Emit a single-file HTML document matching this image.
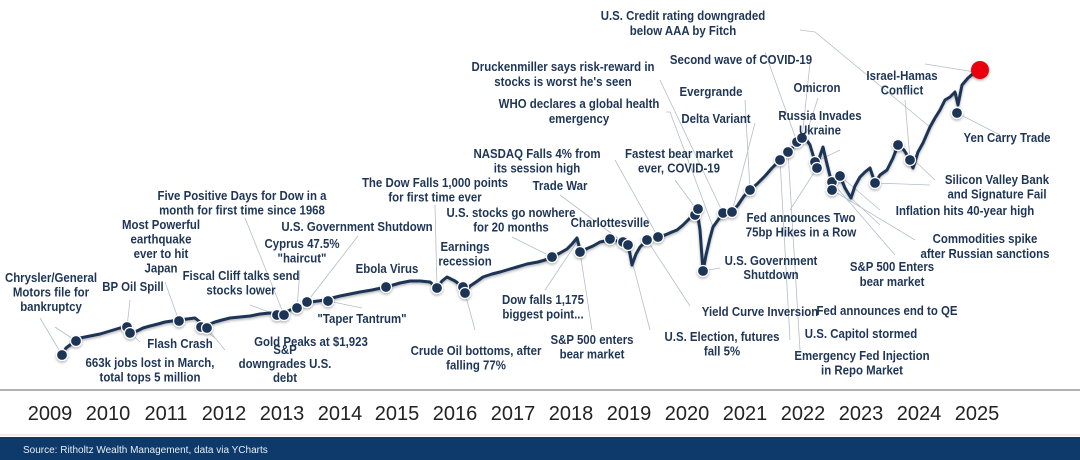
<!DOCTYPE html>
<html><head><style>
body{margin:0;width:1080px;height:460px;overflow:hidden;background:#fff;font-family:"Liberation Sans",sans-serif}
svg{display:block}
.l{font-weight:bold;font-size:13px;fill:#1e3556;text-anchor:middle}
.y{font-size:20px;fill:#222;text-anchor:middle}
.d{fill:#1e3556;stroke:#fff;stroke-width:1.2}
.k{stroke:#b5bec9;stroke-width:0.8;fill:none}
</style></head><body>
<svg width="1080" height="460" viewBox="0 0 1080 460">
<defs><filter id="sh" x="-5%" y="-5%" width="110%" height="120%"><feDropShadow dx="0" dy="1.5" stdDeviation="1.2" flood-color="#000" flood-opacity="0.3"/></filter></defs>
<g class="k">
<path d="M62 355L40 318"/><path d="M76 341L55 327"/><path d="M127 327L130 300"/><path d="M130 333L140 342"/><path d="M179 321L165 282"/><path d="M201 327L215 338"/><path d="M207 328L225 350"/><path d="M277 315L250 305"/><path d="M284 315L245 218"/><path d="M297 308L300 270"/><path d="M307 302L358 236"/><path d="M328 301L362 308"/><path d="M437 288L435 205"/><path d="M465 293L475 330"/><path d="M552 257L512 237"/><path d="M577 242L545 290"/><path d="M580 252L592 330"/><path d="M623 242L560 195"/><path d="M628 245L650 330"/><path d="M647 240L690 306"/><path d="M658 237L615 160"/><path d="M697 210L675 180"/><path d="M703 271L720 268"/><path d="M713 227L670 112L666 112"/><path d="M723 213L660 80"/><path d="M732 212L755 123"/><path d="M750 190L745 100"/><path d="M780 160L790 340"/><path d="M788 152L800 350"/><path d="M797 142L765 52"/><path d="M802 138L810 63"/><path d="M805 138L818 98"/><path d="M815 162L840 150"/><path d="M817 168L790 210"/><path d="M832 182L895 255"/><path d="M832 190L915 240"/><path d="M840 176L880 210"/><path d="M851 198L880 225"/><path d="M875 183L930 185"/><path d="M898 145L935 180"/><path d="M910 160L905 100"/><path d="M930 127L815 32L800 30"/><path d="M957 113L1000 135"/><path d="M975 72L925 64"/>
</g>
<polyline filter="url(#sh)" fill="none" stroke="#1e3556" stroke-width="3" stroke-linejoin="round" points="62,355 66,348 70,345 75,341 80,338 90,336 100,334 110,331 120,328 127,326 131,333 137,331 143,328 150,326 158,324 165,322 172,321 179,320 187,319 195,318 200,322 205,326 210,324 215,322 222,320 230,318 240,317 250,316 260,314 270,313 280,314 288,311 295,308 302,305 310,302 318,301 325,300 332,298 340,296 350,294 360,292 372,290 386,287 393,285 400,283 410,281 420,281 430,282 437,288 442,281 447,277 455,281 463,287 465,293 470,286 476,282 483,277 492,274 500,272 510,269 517,267 527,264 538,262 545,260 552,257 560,253 567,249 572,244 577,238 579,246 580,252 586,249 593,246 600,242 605,241 610,239 617,241 623,242 628,245 630,254 632,265 636,254 640,247 647,240 652,238 658,237 665,235 672,232 677,230 683,225 690,218 695,214 697,210 700,230 703,271 706,255 710,238 713,227 718,220 723,213 728,213 732,212 738,205 744,196 750,190 757,184 765,176 772,168 780,160 788,152 793,147 797,142 802,138 805,138 808,142 810,145 813,155 815,162 817,168 820,156 823,147 826,160 828,168 830,176 832,182 832,190 836,182 840,176 845,188 851,198 855,186 860,177 865,172 870,168 875,183 880,175 887,170 893,158 898,145 904,150 910,160 913,168 918,152 923,143 930,127 935,118 940,110 945,100 950,97 955,92 958,105 962,85 968,78 975,72 980,70"/>
<g filter="url(#sh)">
<circle class="d" cx="62" cy="355" r="5.5"/><circle class="d" cx="76" cy="341" r="5.5"/><circle class="d" cx="127" cy="327" r="5.5"/><circle class="d" cx="130" cy="333" r="5.5"/><circle class="d" cx="179" cy="321" r="5.5"/><circle class="d" cx="201" cy="327" r="5.5"/><circle class="d" cx="207" cy="328" r="5.5"/><circle class="d" cx="277" cy="315" r="5.5"/><circle class="d" cx="284" cy="315" r="5.5"/><circle class="d" cx="297" cy="308" r="5.5"/><circle class="d" cx="307" cy="302" r="5.5"/><circle class="d" cx="328" cy="301" r="5.5"/><circle class="d" cx="386" cy="287" r="5.5"/><circle class="d" cx="437" cy="288" r="5.5"/><circle class="d" cx="463" cy="287" r="5.5"/><circle class="d" cx="465" cy="293" r="5.5"/><circle class="d" cx="552" cy="257" r="5.5"/><circle class="d" cx="580" cy="252" r="5.5"/><circle class="d" cx="610" cy="239" r="5.5"/><circle class="d" cx="623" cy="242" r="5.5"/><circle class="d" cx="628" cy="245" r="5.5"/><circle class="d" cx="647" cy="240" r="5.5"/><circle class="d" cx="658" cy="237" r="5.5"/><circle class="d" cx="695" cy="215" r="5.5"/><circle class="d" cx="698" cy="209" r="5.5"/><circle class="d" cx="703" cy="271" r="5.5"/><circle class="d" cx="723" cy="213" r="5.5"/><circle class="d" cx="732" cy="212" r="5.5"/><circle class="d" cx="750" cy="190" r="5.5"/><circle class="d" cx="780" cy="160" r="5.5"/><circle class="d" cx="788" cy="152" r="5.5"/><circle class="d" cx="797" cy="142" r="5.5"/><circle class="d" cx="802" cy="138" r="5.5"/><circle class="d" cx="815" cy="162" r="5.5"/><circle class="d" cx="817" cy="168" r="5.5"/><circle class="d" cx="832" cy="182" r="5.5"/><circle class="d" cx="832" cy="190" r="5.5"/><circle class="d" cx="840" cy="176" r="5.5"/><circle class="d" cx="875" cy="183" r="5.5"/><circle class="d" cx="898" cy="145" r="5.5"/><circle class="d" cx="910" cy="160" r="5.5"/><circle class="d" cx="957" cy="113" r="5.5"/>
<circle cx="980" cy="70" r="9" fill="#e8000a"/>
</g>
<g class="l">
<text transform="translate(51,282) scale(.88 1)"><tspan x="0">Chrysler/General</tspan><tspan x="0" dy="14.5">Motors file for</tspan><tspan x="0" dy="14.5">bankruptcy</tspan></text>
<text transform="translate(133,291) scale(.88 1)">BP Oil Spill</text>
<text transform="translate(161,229) scale(.88 1)"><tspan x="0">Most Powerful</tspan><tspan x="0" dy="14.5">earthquake</tspan><tspan x="0" dy="14.5">ever to hit</tspan><tspan x="0" dy="14.5">Japan</tspan></text>
<text transform="translate(180,348) scale(.88 1)">Flash Crash</text>
<text transform="translate(150,367) scale(.88 1)"><tspan x="0">663k jobs lost in March,</tspan><tspan x="0" dy="14.5">total tops 5 million</tspan></text>
<text transform="translate(242,200) scale(.88 1)"><tspan x="0">Five Positive Days for Dow in a</tspan><tspan x="0" dy="14.5">month for first time since 1968</tspan></text>
<text transform="translate(357,231) scale(.88 1)">U.S. Government Shutdown</text>
<text transform="translate(302,248) scale(.88 1)"><tspan x="0">Cyprus 47.5%</tspan><tspan x="0" dy="14.5">"haircut"</tspan></text>
<text transform="translate(241,280) scale(.88 1)"><tspan x="0">Fiscal Cliff talks send</tspan><tspan x="0" dy="14.5">stocks lower</tspan></text>
<text transform="translate(311,346) scale(.88 1)">Gold Peaks at $1,923</text>
<text transform="translate(285,354) scale(.88 1)"><tspan x="0">S&amp;P</tspan><tspan x="0" dy="14">downgrades U.S.</tspan><tspan x="0" dy="14">debt</tspan></text>
<text transform="translate(362,323) scale(.88 1)">"Taper Tantrum"</text>
<text transform="translate(387,273) scale(.88 1)">Ebola Virus</text>
<text transform="translate(435,187) scale(.88 1)"><tspan x="0">The Dow Falls 1,000 points</tspan><tspan x="0" dy="14.5">for first time ever</tspan></text>
<text transform="translate(465,251) scale(.88 1)"><tspan x="0">Earnings</tspan><tspan x="0" dy="14.5">recession</tspan></text>
<text transform="translate(476,355) scale(.88 1)"><tspan x="0">Crude Oil bottoms, after</tspan><tspan x="0" dy="14.5">falling 77%</tspan></text>
<text transform="translate(511,217) scale(.88 1)"><tspan x="0">U.S. stocks go nowhere</tspan><tspan x="0" dy="14.5">for 20 months</tspan></text>
<text transform="translate(543,304) scale(.88 1)"><tspan x="0">Dow falls 1,175</tspan><tspan x="0" dy="14.5">biggest point...</tspan></text>
<text transform="translate(537,158) scale(.88 1)"><tspan x="0">NASDAQ Falls 4% from</tspan><tspan x="0" dy="14.5">its session high</tspan></text>
<text transform="translate(560,190) scale(.88 1)">Trade War</text>
<text transform="translate(610,227) scale(.88 1)">Charlottesville</text>
<text transform="translate(592,344) scale(.88 1)"><tspan x="0">S&amp;P 500 enters</tspan><tspan x="0" dy="14.5">bear market</tspan></text>
<text transform="translate(563,71) scale(.88 1)"><tspan x="0">Druckenmiller says risk-reward in</tspan><tspan x="0" dy="15">stocks is worst he's seen</tspan></text>
<text transform="translate(579,108) scale(.88 1)"><tspan x="0">WHO declares a global health</tspan><tspan x="0" dy="15">emergency</tspan></text>
<text transform="translate(679,158) scale(.88 1)"><tspan x="0">Fastest bear market</tspan><tspan x="0" dy="14.5">ever, COVID-19</tspan></text>
<text transform="translate(722,341) scale(.88 1)"><tspan x="0">U.S. Election, futures</tspan><tspan x="0" dy="14.5">fall 5%</tspan></text>
<text transform="translate(760,316) scale(.88 1)">Yield Curve Inversion</text>
<text transform="translate(683,20) scale(.88 1)"><tspan x="0">U.S. Credit rating downgraded</tspan><tspan x="0" dy="15">below AAA by Fitch</tspan></text>
<text transform="translate(741,64) scale(.88 1)">Second wave of COVID-19</text>
<text transform="translate(711,96) scale(.88 1)">Evergrande</text>
<text transform="translate(716,123) scale(.88 1)">Delta Variant</text>
<text transform="translate(771,265) scale(.88 1)"><tspan x="0">U.S. Government</tspan><tspan x="0" dy="14">Shutdown</tspan></text>
<text transform="translate(817,92) scale(.88 1)">Omicron</text>
<text transform="translate(820,120) scale(.88 1)"><tspan x="0">Russia Invades</tspan><tspan x="0" dy="14.5">Ukraine</tspan></text>
<text transform="translate(801,222) scale(.88 1)"><tspan x="0">Fed announces Two</tspan><tspan x="0" dy="14.5">75bp Hikes in a Row</tspan></text>
<text transform="translate(887,315) scale(.88 1)">Fed announces end to QE</text>
<text transform="translate(861,338) scale(.88 1)">U.S. Capitol stormed</text>
<text transform="translate(862,360) scale(.88 1)"><tspan x="0">Emergency Fed Injection</tspan><tspan x="0" dy="14.5">in Repo Market</tspan></text>
<text transform="translate(892,271) scale(.88 1)"><tspan x="0">S&amp;P 500 Enters</tspan><tspan x="0" dy="15">bear market</tspan></text>
<text transform="translate(902,80) scale(.88 1)"><tspan x="0">Israel-Hamas</tspan><tspan x="0" dy="14.5">Conflict</tspan></text>
<text transform="translate(1007,142) scale(.88 1)">Yen Carry Trade</text>
<text transform="translate(997,184) scale(.88 1)"><tspan x="0">Silicon Valley Bank</tspan><tspan x="0" dy="14.5">and Signature Fail</tspan></text>
<text transform="translate(965,215) scale(.88 1)">Inflation hits 40-year high</text>
<text transform="translate(985,243) scale(.88 1)"><tspan x="0">Commodities spike</tspan><tspan x="0" dy="15">after Russian sanctions</tspan></text>
</g>
<line x1="0" y1="390" x2="1080" y2="390" stroke="#666" stroke-width="1"/>
<g class="y">
<text x="50" y="420">2009</text><text x="108" y="420">2010</text><text x="166" y="420">2011</text><text x="224" y="420">2012</text><text x="282" y="420">2013</text><text x="340" y="420">2014</text><text x="397" y="420">2015</text><text x="455" y="420">2016</text><text x="513" y="420">2017</text><text x="571" y="420">2018</text><text x="629" y="420">2019</text><text x="687" y="420">2020</text><text x="745" y="420">2021</text><text x="803" y="420">2022</text><text x="861" y="420">2023</text><text x="919" y="420">2024</text><text x="977" y="420">2025</text>
</g>
<line x1="0" y1="435" x2="1080" y2="435" stroke="#ddd"/>
<rect x="0" y="437" width="1080" height="23" fill="#0e3a6b"/>
<text x="23" y="453" font-size="10" fill="#e8edf3">Source: Ritholtz Wealth Management, data via YCharts</text>
</svg>
</body></html>
